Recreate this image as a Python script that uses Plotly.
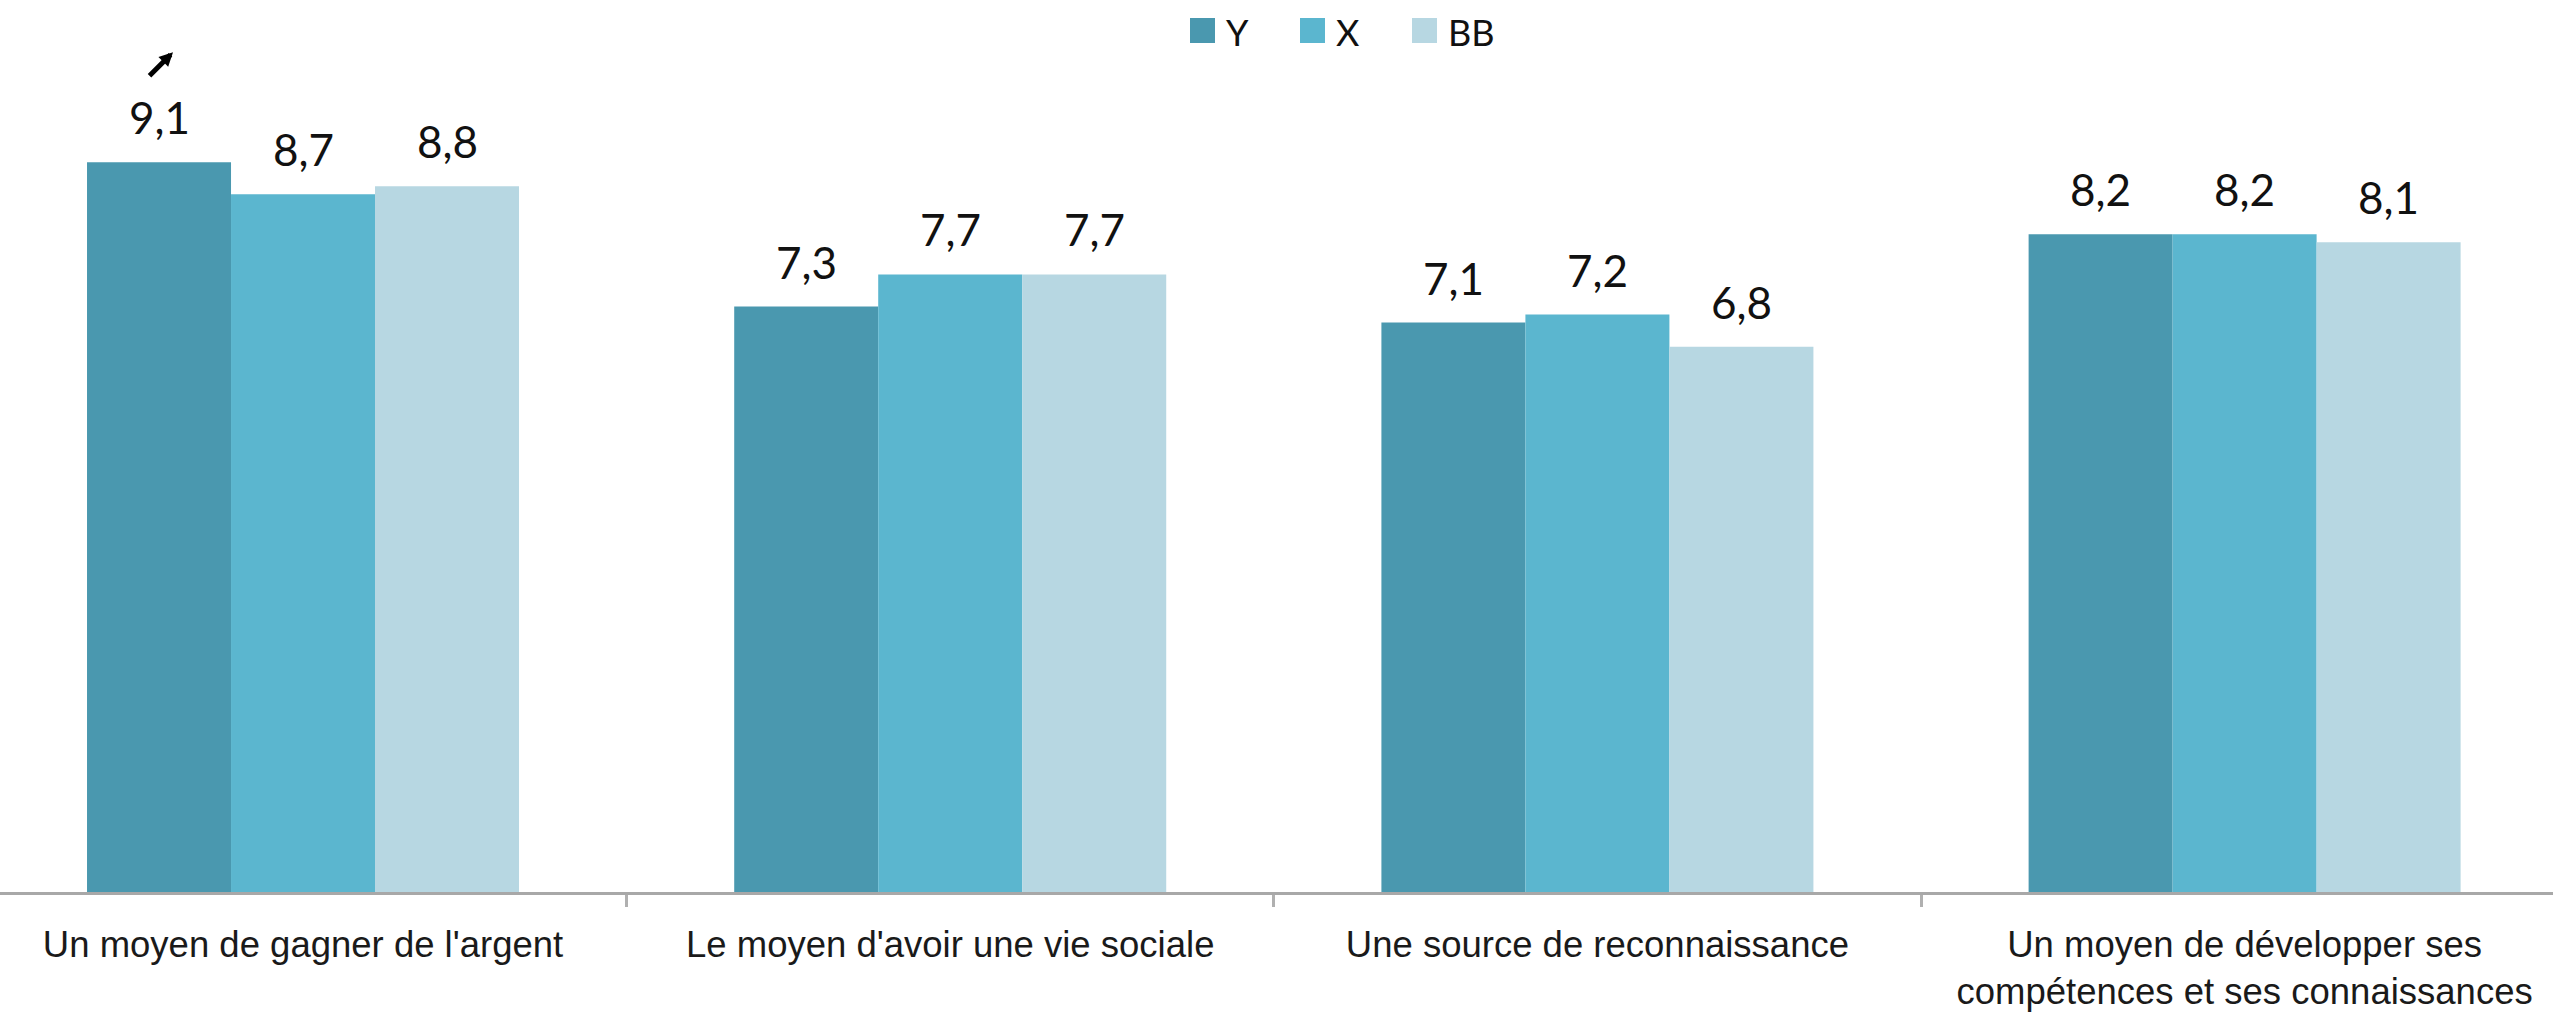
import plotly.graph_objects as go

# ---- data ----
categories = [
    "Un moyen de gagner de l'argent",
    "Le moyen d'avoir une vie sociale",
    "Une source de reconnaissance",
    "Un moyen de développer ses<br>compétences et ses connaissances",
]
series_names = ["Y", "X", "BB"]
values_Y = [9.1, 7.3, 7.1, 8.2]
values_X = [8.7, 7.7, 7.2, 8.2]
values_BB = [8.8, 7.7, 6.8, 8.1]

# ---- style ----
colors = ["#4a98af", "#5bb6cf", "#b7d7e2"]
W, H = 2553, 1017
plot_bottom = 892            # px from top where baseline sits
x_range = [-0.4682, 3.4765]
y_range = [0, 11.122]
bargap = 0.3325

fig = go.Figure()
all_vals = [values_Y, values_X, values_BB]
for name, vals, col in zip(series_names, all_vals, colors):
    fig.add_trace(go.Bar(
        x=categories, y=vals, name=name,
        marker=dict(color=col, line=dict(width=0)),
        showlegend=False, hoverinfo="x+y",
    ))

cat_px = W / (x_range[1] - x_range[0])
bar_px = cat_px * (1 - bargap) / 3

annotations = []
for j, vals in enumerate(all_vals):
    for cat, v in zip(categories, vals):
        annotations.append(dict(
            x=cat, y=v, xref="x", yref="y",
            text=f"{v:.1f}".replace(".", ","),
            showarrow=False, yanchor="bottom", xanchor="center",
            xshift=(j - 1) * bar_px, yshift=17,
            font=dict(family="Lato", size=44, color="#111111"),
        ))

# heavy arrow marker above the first label
annotations.append(dict(
    x=categories[0], y=values_Y[0], xref="x", yref="y",
    text="", showarrow=True, arrowhead=2, arrowsize=0.55, arrowwidth=5,
    arrowcolor="#000000", ax=-25, ay=25, standoff=0, startstandoff=0,
    xshift=-bar_px + 14, yshift=110,
))

# manual legend (large squares)
plot_h = plot_bottom
shapes = []
legend_x = [1190, 1300, 1412]
for name, col, lx in zip(series_names, colors, legend_x):
    shapes.append(dict(
        type="rect", xref="paper", yref="paper",
        x0=lx / W, x1=(lx + 25) / W,
        y0=(plot_h - 43) / plot_h, y1=(plot_h - 18) / plot_h,
        fillcolor=col, line=dict(width=0),
    ))
    annotations.append(dict(
        x=(lx + 34) / W, y=(plot_h - 32) / plot_h, xref="paper", yref="paper",
        text=name, showarrow=False, xanchor="left", yanchor="middle",
        font=dict(family="Lato", size=36, color="#111111"),
    ))

fig.update_layout(
    width=W, height=H,
    margin=dict(l=0, r=0, t=0, b=H - plot_bottom, pad=0),
    paper_bgcolor="white", plot_bgcolor="white",
    barmode="group", bargap=bargap, bargroupgap=0,
    annotations=annotations, shapes=shapes,
    xaxis=dict(
        type="category", range=x_range, automargin=False,
        showline=True, linecolor="#a8a8a8", linewidth=3,
        ticks="outside", tickson="boundaries", ticklen=12,
        tickwidth=3, tickcolor="#b0b0b0",
        ticklabelstandoff=18,
        tickfont=dict(family="Liberation Sans", size=36.5, color="#1a1a1a"),
        showgrid=False, zeroline=False,
    ),
    yaxis=dict(
        range=y_range, visible=False, showgrid=False, zeroline=False,
        automargin=False,
    ),
)

fig.write_html("out.html", config={"displayModeBar": False},
               post_script="document.body.style.margin='0';")
